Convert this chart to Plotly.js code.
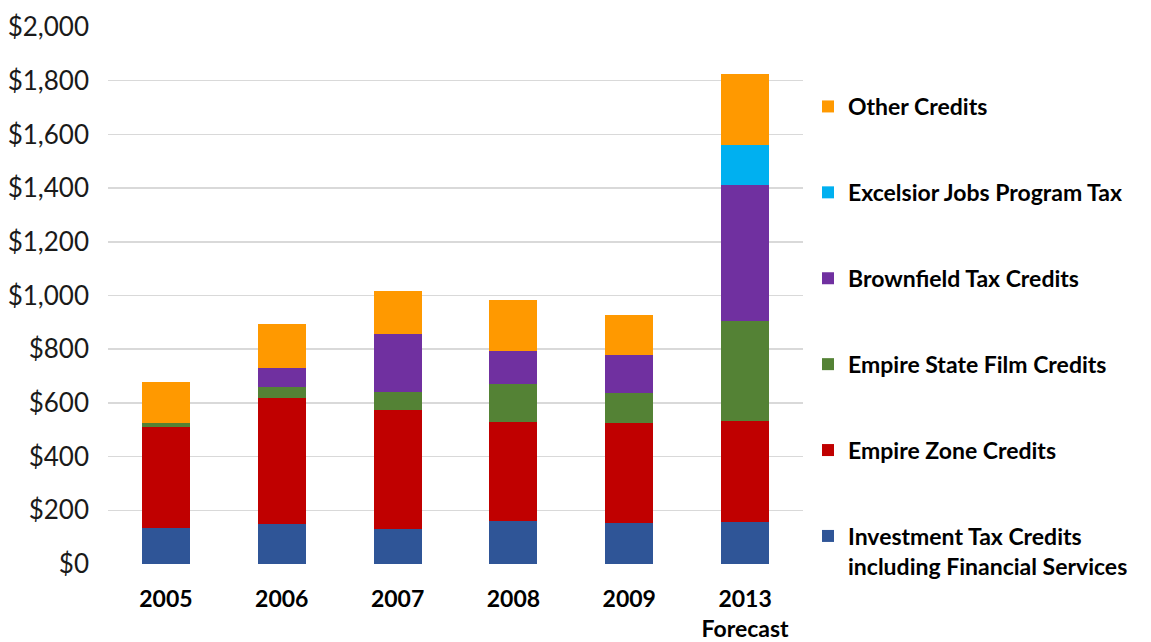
<!DOCTYPE html>
<html>
<head>
<meta charset="utf-8">
<script src="https://cdn.plot.ly/plotly-3.0.1.min.js"></script>
<style>html,body{margin:0;padding:0;background:#fff;}#chart{width:1151px;height:642px;}</style>
</head>
<body>
<div id="chart"></div>
<script>
const years = ['2005', '2006', '2007', '2008', '2009', '2013<br>Forecast'];
const investmentTaxCredits = [135, 149, 129, 160, 153, 156];
const empireZoneCredits = [374, 468, 445, 368, 372, 375];
const empireStateFilmCredits = [17, 42, 67, 144, 111, 373];
const brownfieldTaxCredits = [0, 72, 217, 120, 142, 506];
const excelsiorJobsProgramTax = [0, 0, 0, 0, 0, 149];
const otherCredits = [151, 162, 159, 191, 148, 266];

const seriesNames = ['Investment Tax Credits<br>including Financial Services', 'Empire Zone Credits', 'Empire State Film Credits', 'Brownfield Tax Credits', 'Excelsior Jobs Program Tax', 'Other Credits'];
const seriesValues = [investmentTaxCredits, empireZoneCredits, empireStateFilmCredits, brownfieldTaxCredits, excelsiorJobsProgramTax, otherCredits];
const seriesColors = ['#2F5597', '#C00000', '#548235', '#7030A0', '#00B0F0', '#FF9900'];

const FONT = 'Lato, "Open Sans", sans-serif';

const traces = seriesNames.map((name, i) => ({
  type: 'bar',
  name: name,
  x: years,
  y: seriesValues[i],
  legendgroup: 'g' + i,
  legendrank: 100 - i,
  marker: { color: seriesColors[i], line: { width: 0 } },
  hoverinfo: 'name+y'
}));

const layout = {
  width: 1151,
  height: 642,
  margin: { l: 108, r: 347.5, t: 27, b: 78.3 },
  paper_bgcolor: '#ffffff',
  plot_bgcolor: '#ffffff',
  barmode: 'stack',
  bargap: 0.585,
  font: { family: FONT, color: '#000000' },
  xaxis: {
    type: 'category',
    showgrid: false,
    zeroline: false,
    showline: false,
    ticks: '',
    tickfont: { family: FONT, size: 23, color: '#000000', weight: 'bold' },
    ticklabelstandoff: 19
  },
  yaxis: {
    range: [0, 2000],
    dtick: 200,
    tickformat: '$,.0f',
    showgrid: true,
    gridcolor: '#D9D9D9',
    gridwidth: 1.5,
    zeroline: false,
    showline: false,
    ticks: '',
    tickfont: { family: FONT, size: 26, color: '#1a1a1a' },
    ticklabelstandoff: 18
  },
  legend: {
    x: 1.0072,
    xanchor: 'left',
    y: 0.892,
    yanchor: 'top',
    traceorder: 'grouped',
    tracegroupgap: 53,
    valign: 'top',
    font: { family: FONT, size: 23, color: '#000000', weight: 'bold' },
    bgcolor: 'rgba(0,0,0,0)'
  },
  showlegend: true
};

Plotly.newPlot('chart', traces, layout, { displayModeBar: false, staticPlot: true });
</script>
</body>
</html>
